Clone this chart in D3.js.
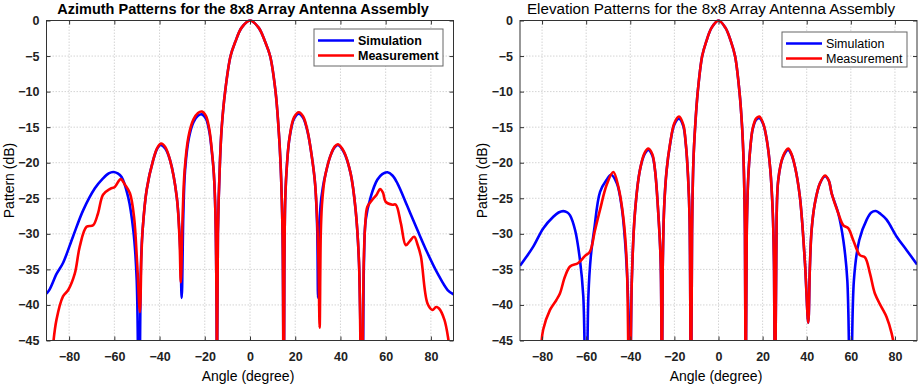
<!DOCTYPE html>
<html>
<head>
<meta charset="utf-8">
<script src="https://cdn.jsdelivr.net/npm/d3@7"></script>
<style>
  body { margin: 0; background: #fff; }
  svg { display: block; font-family: "Liberation Sans", Arial, sans-serif; }
</style>
</head>
<body>
<div id="container"></div>
<script>
let w = 920;
let h = 385;

// tick values
let xTicks = [-80, -60, -40, -20, 0, 20, 40, 60, 80];
let yTicks = [0, -5, -10, -15, -20, -25, -30, -35, -40, -45];
let seriesNames = ["Simulation", "Measurement"];
let titles = ["Azimuth Patterns for the 8x8 Array Antenna Assembly", "Elevation Patterns for the 8x8 Array Antenna Assembly"];

// azimuth, simulation  [angle (deg), pattern (dB)]
let azSim = [
  [-90,-38.4],[-88.6,-37.8],[-85.5,-35.6],[-82.7,-34.1],[-78.3,-30.4],[-73.8,-26.7],[-68.6,-23.6],[-65,-22.2],
  [-62.5,-21.5],[-60.5,-21.3],[-58.5,-21.5],[-56.8,-22.0],[-53.9,-24.8],[-51.6,-29.5],[-50.1,-36.5],[-49.1,-60],
  [-48.2,-34],[-47.5,-29.5],[-45.7,-23.8],[-42.8,-19.6],[-41,-18],[-39.6,-17.5],[-37.5,-18],[-35.4,-19.6],
  [-32.4,-24.8],[-30.9,-31.8],[-30.2,-39],
  [-29.5,-27.5],[-28.7,-21],[-27,-16.5],[-25,-14.3],[-23,-13.4],[-21.3,-13.2],[-19.5,-13.8],[-18,-15.6],
  [-16.8,-18.7],[-16,-21.5],[-15.3,-27],[-14.8,-40],[-14.6,-60],
  [-14.2,-30],[-13.3,-20],[-12.5,-15],[-11,-10],[-8.6,-5],[-6.5,-3],[-3.7,-1],[0,0],[3.8,-1],[6.7,-3],
  [8.9,-5],[11.3,-10],[12.6,-15],[13.5,-20],[14.4,-30],[14.9,-60],
  [15.2,-35],[15.6,-25],[16.4,-20],[17.5,-16.5],[19.5,-13.8],[21.6,-13.1],[23.5,-13.7],[25.5,-15.7],
  [27.5,-19.5],[28.8,-23],[29.7,-29],[30.1,-39],
  [30.6,-30],[31.2,-26],[32.2,-23.5],[33.4,-21.6],[35.6,-19],[37.5,-17.8],[38.9,-17.5],[41.5,-18.5],
  [44.5,-21.5],[46.7,-26.6],[48.2,-34],[49.7,-60],
  [50.4,-34],[51.2,-28],[53.4,-24.8],[56.3,-22.4],[58.5,-21.6],[60.8,-21.35],[63,-21.8],[65.2,-22.9],
  [69.7,-26.2],[74.1,-29.5],[78.5,-32.7],[83,-35.6],[87.4,-37.9],[90,-38.5]
];

// azimuth, measurement
let azMeas = [
  [-87.2,-46],[-85.6,-42.1],[-82.7,-38.8],[-80.4,-37.9],[-77.5,-35.6],[-75.3,-31.8],[-72.3,-29.0],[-69.4,-28.8],
  [-67.2,-27.1],[-65,-24.5],[-62,-23.7],[-59.8,-23.4],[-57.2,-22.3],[-55.3,-23.1],[-53.1,-24.3],[-51.3,-27.6],
  [-49.9,-34.2],[-48.7,-41],
  [-48,-33],[-47.5,-29.5],[-45.7,-23.8],[-42.8,-19.6],[-41,-17.9],[-39.3,-17.3],[-37.5,-17.8],[-35.4,-19.6],
  [-32.4,-24.8],[-31.2,-30.5],[-30.6,-36.8],
  [-29.8,-27.5],[-28.9,-21],[-27.2,-16.3],[-25,-13.9],[-23,-13],[-21.3,-12.8],[-19.5,-13.4],[-18,-15.3],
  [-16.8,-18.5],[-16,-21.5],[-15.3,-27],[-14.8,-40],[-14.6,-60],
  [-14.2,-30],[-13.3,-20],[-12.5,-15],[-11,-10],[-8.6,-5],[-6.5,-3],[-3.7,-1],[0,0],[3.8,-1],[6.7,-3],
  [8.9,-5],[11.3,-10],[12.6,-15],[13.5,-20],[14.4,-30],[14.9,-60],
  [15.2,-35],[15.6,-25],[16.4,-20],[17.5,-16.4],[19.5,-13.6],[21.6,-12.9],[23.5,-13.5],[25.5,-15.6],
  [27.5,-19.5],[28.8,-23],[29.7,-28],[30.3,-34],[30.8,-43.2],
  [31.3,-30],[31.8,-26],[32.6,-23.2],[33.4,-21.6],[35.6,-19],[37.5,-17.7],[38.9,-17.4],[41.5,-18.4],
  [44.5,-21.5],[46.7,-26.6],[48.2,-34],[49.4,-60],
  [50.3,-34],[51,-28.5],[51.9,-26.2],[54.1,-25.2],[56,-24.5],[57.5,-23.7],[58.8,-24.2],[60,-25.5],[63,-25.9],
  [64.5,-25.9],[66.7,-28.5],[68.9,-31.6],[70.5,-31.1],[72.6,-30.4],[74.2,-31.6],[75.6,-33.2],[78.5,-39.8],
  [80.7,-40.7],[82.3,-40.3],[83.6,-40.5],[86,-42.1],[87.8,-45],[88.6,-47]
];

// elevation, simulation
let elSim = [
  [-90,-34.5],[-87,-33.2],[-84,-31.8],[-79.4,-29.2],[-74.9,-27.6],[-72.5,-27],[-70.4,-26.8],[-68.5,-27],
  [-67.3,-27.4],[-65,-29.5],[-62.8,-33.7],[-61.3,-38.8],[-60,-60],
  [-59,-38.8],[-57.9,-33.2],[-56.4,-29.5],[-53.7,-24.1],[-50.7,-22.4],[-48.7,-21.7],[-46.1,-22.9],[-43.9,-26.2],
  [-42.4,-30.9],[-40.9,-39.8],[-40.2,-60],
  [-39.3,-36.5],[-37.9,-27.1],[-35.6,-21],[-33.5,-18.8],[-31.8,-18.2],[-30,-19],[-28.8,-21],[-27.3,-27.1],
  [-26.2,-34.1],[-25.7,-60],
  [-25.3,-35],[-24.6,-26],[-23.5,-21],[-22,-17.5],[-20,-14.6],[-17.9,-13.8],[-16,-14.8],[-14.8,-17.5],
  [-13.8,-22],[-13.1,-28],[-12.5,-60],
  [-12,-30],[-11.4,-20],[-10.6,-15],[-9.4,-10],[-7.4,-5],[-5.6,-3],[-3.1,-1],[0,0],[3.1,-1],[5.7,-3],[7.5,-5],
  [9.5,-10],[10.7,-15],[11.4,-20],[12,-30],[12.3,-60],
  [12.8,-30],[13.5,-22],[14.4,-18],[15.5,-15.3],[17,-14],[18.5,-13.7],[20.3,-14.6],[22,-17],[23.5,-21],
  [24.6,-27],[25.2,-35],[25.6,-60],
  [26.2,-33],[27.1,-22.4],[29.4,-19.1],[31.6,-18.2],[33,-18.8],[34.7,-20.6],[36.9,-24.8],[39.2,-34.1],[40.7,-42.5],
  [41.4,-35],[42.2,-29.5],[43.7,-25.7],[46,-22.9],[48.3,-21.9],[50,-22.5],[51.3,-24.3],[54.3,-27.1],
  [56.6,-30.9],[58.4,-36.5],[59.9,-60],
  [61.4,-36.5],[63.8,-30.9],[67.2,-28],[69.3,-27],[71.3,-26.8],[73.5,-27.2],[76.2,-28],[80.8,-30.4],
  [85.3,-32.3],[90,-34.3]
];

// elevation, measurement
let elMeas = [
  [-80.4,-46],[-79.5,-43.5],[-76.4,-40.7],[-73.5,-39.3],[-71.9,-38.4],[-69.6,-36],[-67.3,-34.6],[-63.6,-34.1],
  [-60.5,-33.1],[-58.3,-32.5],[-56,-29.5],[-53.7,-26.6],[-50.7,-23.1],[-47.7,-21.3],[-45.4,-23.4],
  [-43.2,-27.6],[-41.6,-34.1],[-40.4,-60],
  [-39.3,-36.5],[-37.9,-27.1],[-35.6,-21],[-33.5,-18.6],[-31.8,-18],[-30,-18.8],[-28.8,-21],[-27.3,-27.1],
  [-26.2,-34.1],[-25.7,-60],
  [-25.3,-35],[-24.6,-26],[-23.5,-21],[-22,-17.4],[-20,-14.4],[-17.9,-13.5],[-16,-14.6],[-14.8,-17.4],
  [-13.8,-22],[-13.1,-28],[-12.5,-60],
  [-12,-30],[-11.4,-20],[-10.6,-15],[-9.4,-10],[-7.4,-5],[-5.6,-3],[-3.1,-1],[0,0],[3.1,-1],[5.7,-3],[7.5,-5],
  [9.5,-10],[10.7,-15],[11.4,-20],[12,-30],[12.3,-60],
  [12.8,-30],[13.5,-22],[14.4,-18],[15.5,-15.2],[17,-13.8],[18.5,-13.5],[20.3,-14.5],[22,-17],[23.5,-21],
  [24.6,-27],[25.2,-35],[25.6,-60],
  [26.2,-33],[27.1,-22.4],[29.4,-19],[31.6,-18],[33,-18.7],[34.7,-20.6],[36.9,-24.8],[39.2,-34.1],[40.7,-42.5],
  [41.4,-35],[42.2,-29.5],[43.7,-25.7],[46,-22.9],[48.3,-21.8],[50,-22.5],[51.3,-24.3],[54.3,-27.1],
  [56.6,-28.8],[58.8,-29.2],[61.1,-30.9],[64.1,-33],[66.4,-33.3],[68.7,-35.6],[70.9,-38.4],[73.9,-40.3],
  [76.2,-41.7],[78.5,-44],[80,-46.5]
];

let viz = d3.select("#container")
  .append("svg")
    .attr("width", w)
    .attr("height", h)
    .style("background-color", "#fff")
;

let panels = [
  {title: titles[0], sim: azSim, meas: azMeas, left: 46.5, right: 453.5, titleWeight: "bold", titleSize: 14.5,
   titleX: 243, xlabX: 248, ylabX: 13.5, legend: {x: 314, y: 29, w: 129, h: 37}, legendWeight: "bold"},
  {title: titles[1], sim: elSim, meas: elMeas, left: 520, right: 917, titleWeight: "normal", titleSize: 15.2,
   titleX: 711, xlabX: 716, ylabX: 487, legend: {x: 782, y: 32, w: 125, h: 35}, legendWeight: "normal"}
];
let plotTop = 20.5;
let plotBottom = 340.5;

panels.forEach(function(p, pi){
  let x = d3.scaleLinear().domain([-90, 90]).range([p.left, p.right]);
  let y = d3.scaleLinear().domain([0, -45]).range([plotTop, plotBottom]);

  let g = viz.append("g").attr("class", "panel");

  // grid
  g.selectAll(".vgrid").data(xTicks).enter()
    .append("line")
      .attr("x1", d => x(d)).attr("x2", d => x(d))
      .attr("y1", plotTop).attr("y2", plotBottom)
      .attr("stroke", "#d4d4d4")
      .attr("stroke-dasharray", "1.5,1.5")
  ;
  g.selectAll(".hgrid").data(yTicks).enter()
    .append("line")
      .attr("x1", p.left).attr("x2", p.right)
      .attr("y1", d => y(d)).attr("y2", d => y(d))
      .attr("stroke", "#d4d4d4")
      .attr("stroke-dasharray", "1.5,1.5")
  ;

  // curves
  let clipId = "clip" + pi;
  g.append("clipPath").attr("id", clipId)
    .append("rect")
      .attr("x", p.left).attr("y", plotTop - 2)
      .attr("width", p.right - p.left).attr("height", plotBottom - plotTop + 2)
  ;
  let line = d3.line()
    .x(d => x(d[0]))
    .y(d => y(d[1]))
    .curve(d3.curveCatmullRom.alpha(0.5))
  ;
  g.append("path").datum(p.sim)
    .attr("d", line)
    .attr("fill", "none")
    .attr("stroke", "#0000ff")
    .attr("stroke-width", 2.6)
    .attr("clip-path", "url(#" + clipId + ")")
  ;
  g.append("path").datum(p.meas)
    .attr("d", line)
    .attr("fill", "none")
    .attr("stroke", "#ff0000")
    .attr("stroke-width", 2.6)
    .attr("clip-path", "url(#" + clipId + ")")
  ;

  // axes
  g.append("g")
    .attr("transform", "translate(0," + plotBottom + ")")
    .call(d3.axisBottom(x).tickValues(xTicks).tickSize(-4).tickPadding(12).tickFormat(d3.format("d")))
  ;
  g.append("g")
    .attr("transform", "translate(0," + plotTop + ")")
    .call(d3.axisTop(x).tickValues(xTicks).tickSize(-4).tickFormat(""))
  ;
  g.append("g")
    .attr("transform", "translate(" + p.left + ",0)")
    .call(d3.axisLeft(y).tickValues(yTicks).tickSize(-4).tickPadding(7).tickFormat(d3.format("d")))
  ;
  g.append("g")
    .attr("transform", "translate(" + p.right + ",0)")
    .call(d3.axisRight(y).tickValues(yTicks).tickSize(-4).tickFormat(""))
  ;
  g.selectAll(".domain").remove();
  g.selectAll(".tick line").attr("stroke", "#333");
  g.selectAll(".tick text")
    .attr("fill", "#222")
    .style("font-size", "12.5px")
    .style("font-weight", "bold")
    .style("font-family", "'Liberation Sans', Arial, sans-serif")
  ;

  // box
  g.append("rect")
    .attr("x", p.left).attr("y", plotTop)
    .attr("width", p.right - p.left).attr("height", plotBottom - plotTop)
    .attr("fill", "none")
    .attr("stroke", "#333")
    .attr("stroke-width", 1)
  ;

  // title and labels
  g.append("text")
    .attr("x", p.titleX)
    .attr("y", 14)
    .attr("text-anchor", "middle")
    .style("font-size", p.titleSize + "px")
    .style("font-weight", p.titleWeight)
    .text(p.title)
  ;
  g.append("text")
    .attr("x", p.xlabX)
    .attr("y", 381)
    .attr("text-anchor", "middle")
    .style("font-size", "14px")
    .text("Angle (degree)")
  ;
  g.append("text")
    .attr("transform", "translate(" + p.ylabX + "," + ((plotTop + plotBottom) / 2) + ") rotate(-90)")
    .attr("text-anchor", "middle")
    .style("font-size", "14px")
    .text("Pattern (dB)")
  ;

  // legend
  let lg = g.append("g").attr("transform", "translate(" + p.legend.x + "," + p.legend.y + ")");
  lg.append("rect")
    .attr("width", p.legend.w).attr("height", p.legend.h)
    .attr("fill", "#fff")
    .attr("stroke", "#666")
  ;
  let colors = ["#0000ff", "#ff0000"];
  seriesNames.forEach(function(name, i){
    let ly = 11.5 + i * 15;
    lg.append("line")
      .attr("x1", 4).attr("x2", 40)
      .attr("y1", ly).attr("y2", ly)
      .attr("stroke", colors[i])
      .attr("stroke-width", 2.6)
    ;
    lg.append("text")
      .attr("x", 44).attr("y", ly + 4.5)
      .style("font-size", "12.5px")
      .style("font-weight", p.legendWeight)
      .text(name)
    ;
  });
});
</script>
</body>
</html>
